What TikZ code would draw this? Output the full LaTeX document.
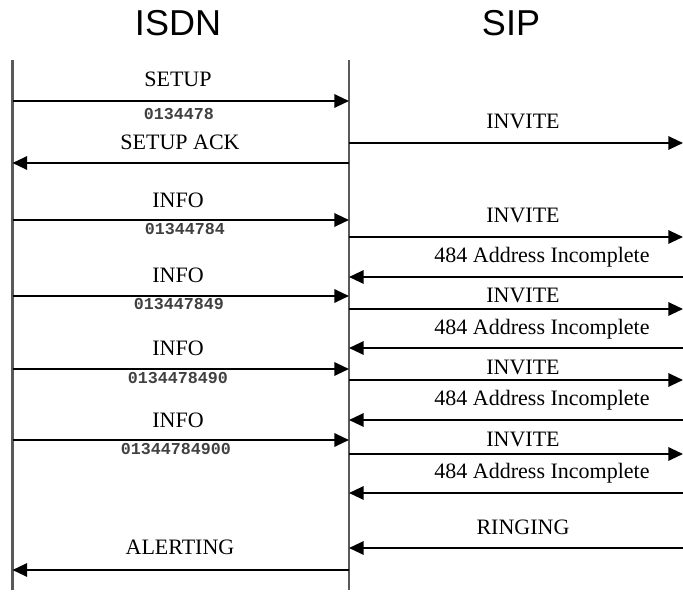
\documentclass[tikz,border=0pt]{standalone}
\usepackage{fontspec}
\setmainfont{Liberation Serif}
\setsansfont{Liberation Sans}
\setmonofont{Liberation Mono}
\usetikzlibrary{arrows.meta}

\begin{document}
\begin{tikzpicture}[x=0.75pt, y=-0.75pt,
    msg/.style={draw=black, line width=1.6pt, -{Triangle[length=11pt, width=10pt]}},
    life/.style={draw=black!65, line width=1.6pt},
    lbl/.style={font=\fontsize{16.5}{18}\selectfont, inner sep=0pt},
    num/.style={font=\fontsize{12.5}{13}\ttfamily\bfseries, text=black!75, inner sep=0pt},
    head/.style={font=\fontsize{27}{30}\sffamily, inner sep=0pt}]

  \useasboundingbox (0,0) rectangle (683,592);

  % lifelines
  \coordinate (isdn) at (12.5,60);
  \coordinate (gw) at (349,60);
  \coordinate (sip) at (683,60);
  \coordinate (isdnend) at (12.5,590);
  \coordinate (gwend) at (349,590);
  \draw[life] (isdn) -- (isdnend);
  \draw[life] (gw) -- (gwend);

  \node[head] (hisdn) at (178,23) {ISDN};
  \node[head] (hsip) at (511,23) {SIP};

  % messages: y / from / to / text / label y / label x
  \foreach [count=\i] \y/\a/\b/\t/\ly/\lx in {
      101/isdn/gw/SETUP/79/178,
      143/gw/sip/INVITE/121/523,
      163/gw/isdn/SETUP ACK/142/180,
      220/isdn/gw/INFO/200/178,
      237/gw/sip/INVITE/215/523,
      277/sip/gw/484 Address Incomplete/257/542,
      296/isdn/gw/INFO/275/178,
      309/gw/sip/INVITE/295/523,
      348/sip/gw/484 Address Incomplete/329/542,
      369/isdn/gw/INFO/348/178,
      380/gw/sip/INVITE/367/523,
      420/sip/gw/484 Address Incomplete/400/542,
      440/isdn/gw/INFO/420/178,
      454/gw/sip/INVITE/439/523,
      493/sip/gw/484 Address Incomplete/473/542,
      548/sip/gw/RINGING/527/523,
      570/gw/isdn/ALERTING/547/180} {
    \coordinate (s\i) at (\a |- 0,\y);
    \coordinate (e\i) at (\b |- 0,\y);
    \draw[msg] (s\i) -- (e\i);
    \node[lbl] (t\i) at (\lx,\ly) {\t};
  }

  % dialled digits
  \node[num] (d1) at (179,114) {0134478};
  \node[num] (d2) at (185,229) {01344784};
  \node[num] (d3) at (179,304) {013447849};
  \node[num] (d4) at (178,378) {0134478490};
  \node[num] (d5) at (176,449) {01344784900};

\end{tikzpicture}
\end{document}
